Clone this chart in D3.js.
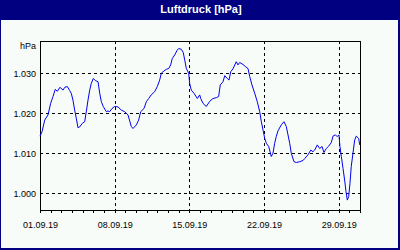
<!DOCTYPE html>
<html>
<head>
<meta charset="utf-8">
<title>Luftdruck</title>
<script src="https://d3js.org/d3.v7.min.js"></script>
<style>
  body { margin: 0; background: #fff; }
  svg { display: block; }
  text { font-family: "Liberation Sans", Arial, sans-serif; }
</style>
</head>
<body>
<div id="chart"></div>
<script>
// days since 01.09.19 00:00
var days = [0, 0.19, 0.44, 0.75, 1.0, 1.22, 1.43, 1.62, 1.87, 2.16, 2.32, 2.56, 2.78, 2.93,
  3.09, 3.25, 3.4, 3.56, 3.72, 3.97, 4.19, 4.34, 4.5, 4.66, 4.81, 5.0, 5.18, 5.44, 5.6,
  5.75, 5.93, 6.22, 6.37, 6.53, 6.75, 7.0, 7.31, 7.62, 7.94, 8.25, 8.56, 8.72, 9.03, 9.25,
  9.44, 9.75, 9.97, 10.19, 10.43, 10.75, 11.0, 11.22, 11.37, 11.53, 11.84, 12.07, 12.25,
  12.4, 12.63, 12.87, 13.0, 13.25, 13.43, 13.57, 13.72, 13.94, 14.03, 14.18, 14.44, 14.75,
  14.97, 15.07, 15.28, 15.59, 15.91, 16.22, 16.53, 16.75, 16.9, 17.16, 17.32, 17.56, 17.72,
  17.88, 18.09, 18.4, 18.56, 18.72, 19.03, 19.25, 19.5, 19.66, 19.87, 20.13, 20.37, 20.6,
  20.75, 20.91, 21.07, 21.22, 21.44, 21.68, 21.84, 22.0, 22.15, 22.31, 22.62, 22.87, 23.09,
  23.25, 23.41, 23.56, 23.81, 24.03, 24.35, 24.66, 24.82, 25.12, 25.38, 25.59, 25.75, 26.0,
  26.22, 26.44, 26.62, 26.84, 27.07, 27.31, 27.47, 27.68, 27.87, 28.03, 28.12, 28.25, 28.41,
  28.56, 28.69, 28.81, 28.94, 29.06, 29.18, 29.34, 29.5, 29.65, 29.88, 29.97]

var pressure = [1014.3, 1015.4, 1018.3, 1019.6, 1022.5, 1024.2, 1026, 1025.5, 1026.5, 1025.8,
  1026.5, 1026.7, 1025.7, 1025, 1023.3, 1020.8, 1018.8, 1016.4, 1016.6, 1017.5, 1017.9,
  1020.4, 1023.3, 1025.8, 1027.5, 1028.7, 1028.2, 1027.9, 1025, 1022.9, 1021.7, 1020.4,
  1020.6, 1020.4, 1021.2, 1021.7, 1021.6, 1020.8, 1020.4, 1019.6, 1016.7, 1016.2, 1017.1,
  1018.3, 1020.4, 1021.2, 1022.9, 1023.7, 1024.6, 1025.4, 1026.7, 1028.3, 1030, 1030.4,
  1031, 1031.2, 1032.1, 1033.7, 1034.6, 1035.8, 1036.2, 1036, 1035.2, 1033.3, 1031.2, 1030,
  1027.5, 1025.8, 1025, 1023.7, 1024.6, 1023.7, 1022.5, 1021.7, 1023, 1023.7, 1023.9,
  1024.2, 1027.1, 1027.9, 1029.4, 1028.7, 1028.3, 1030.4, 1031.1, 1032.9, 1032.1, 1032.7,
  1032.2, 1031.7, 1031.2, 1029.2, 1027.1, 1025, 1022.9, 1020.4, 1017.9, 1015.8, 1013.7,
  1012.5, 1011.7, 1009.2, 1010, 1012.5, 1014.2, 1015.6, 1017.1, 1017.9, 1016.7, 1014.6,
  1012.5, 1010, 1007.9, 1007.7, 1007.9, 1008.2, 1008.7, 1009.6, 1010.8, 1010.4, 1010.8,
  1012.1, 1011.2, 1011.7, 1010.2, 1011.2, 1011.8, 1012.7, 1014.3, 1014.6, 1014.2, 1014.6,
  1011.7, 1009.2, 1006.2, 1003.3, 1000.4, 998.3, 999.2, 1002.5, 1006.7, 1010, 1013.3,
  1014.3, 1013.7, 1012.1]

var yTicks = [1000, 1010, 1020, 1030]
var title = "Luftdruck [hPa]"
var unit = "hPa"

var W = 400, H = 250
var mL = 40, mR = 360, mT = 41, mB = 210
var start = new Date(2019, 8, 1), end = new Date(2019, 9, 1)

var data = days.map(function(d, i) {
  return { t: new Date(start.getTime() + d * 86400000), v: pressure[i] }
})

var de = d3.formatLocale({ decimal: ",", thousands: ".", grouping: [3], currency: ["", " €"] })
var fmtY = de.format(",")
var fmtX = d3.timeFormat("%d.%m.%y")

var x = d3.scaleTime().domain([start, end]).range([mL, mR])
var y = d3.scaleLinear().domain([1000 - 16.7 / 4, 1000 + 152.3 / 4]).range([mB, mT])

var svg = d3.select('#chart').append('svg')
  .attr('width', W).attr('height', H)

svg.append('rect').attr('x', 0).attr('y', 0).attr('width', W).attr('height', H)
  .attr('fill', '#000080')
svg.append('rect').attr('x', 1).attr('y', 20).attr('width', W - 3).attr('height', H - 22)
  .attr('fill', '#f8fcf8')

svg.append('text')
  .attr('x', 201).attr('y', 13)
  .attr('text-anchor', 'middle')
  .attr('fill', '#fff')
  .style('font-size', '11px').style('font-weight', 'bold')
  .text(title)

// grid
var grid = svg.append('g').attr('shape-rendering', 'crispEdges')
  .attr('stroke', '#000').attr('stroke-dasharray', '3,3')
grid.selectAll('.hg').data(yTicks).enter().append('line')
  .attr('x1', mL).attr('x2', mR)
  .attr('y1', function(d){ return Math.round(y(d)) + 0.5 })
  .attr('y2', function(d){ return Math.round(y(d)) + 0.5 })
var weeks = d3.timeSunday.range(start, end)
grid.selectAll('.vg').data(weeks.slice(1)).enter().append('line')
  .attr('y1', mT).attr('y2', mB)
  .attr('x1', function(d){ return Math.round(x(d)) + 0.5 })
  .attr('x2', function(d){ return Math.round(x(d)) + 0.5 })

// axes
var xAxis = d3.axisBottom(x).ticks(d3.timeDay.every(1)).tickSize(3).tickFormat('')
var gx = svg.append('g').attr('transform', 'translate(0,' + mB + ')').call(xAxis)
gx.select('.domain').remove()
gx.selectAll('line').attr('stroke', '#000').attr('shape-rendering', 'crispEdges')

var xLab = d3.axisBottom(x).tickValues(weeks).tickSize(0).tickPadding(12).tickFormat(fmtX)
var gxl = svg.append('g').attr('transform', 'translate(0,' + mB + ')').call(xLab)
gxl.select('.domain').remove()
gxl.selectAll('text').style('font-size', '9px').style('font-family', '"Liberation Sans", Arial, sans-serif').attr('fill', '#000')

var yAxis = d3.axisLeft(y).tickValues(yTicks).tickSize(0).tickPadding(4).tickFormat(fmtY)
var gy = svg.append('g').attr('transform', 'translate(' + mL + ',0)').call(yAxis)
gy.select('.domain').remove()
gy.selectAll('text').style('font-size', '9px').style('font-family', '"Liberation Sans", Arial, sans-serif').attr('fill', '#000')

svg.append('text').attr('x', 36).attr('y', 48.5).attr('text-anchor', 'end')
  .style('font-size', '9px').text(unit)

// frame
svg.append('rect').attr('x', mL + 0.5).attr('y', mT + 0.5)
  .attr('width', mR - mL).attr('height', mB - mT)
  .attr('fill', 'none').attr('stroke', '#000').attr('shape-rendering', 'crispEdges')

// line
var line = d3.line().x(function(d){ return x(d.t) }).y(function(d){ return y(d.v) })
svg.append('path').datum(data)
  .attr('d', line)
  .attr('fill', 'none')
  .attr('stroke', '#0000ee')
  .attr('stroke-width', 1)
</script>
</body>
</html>
